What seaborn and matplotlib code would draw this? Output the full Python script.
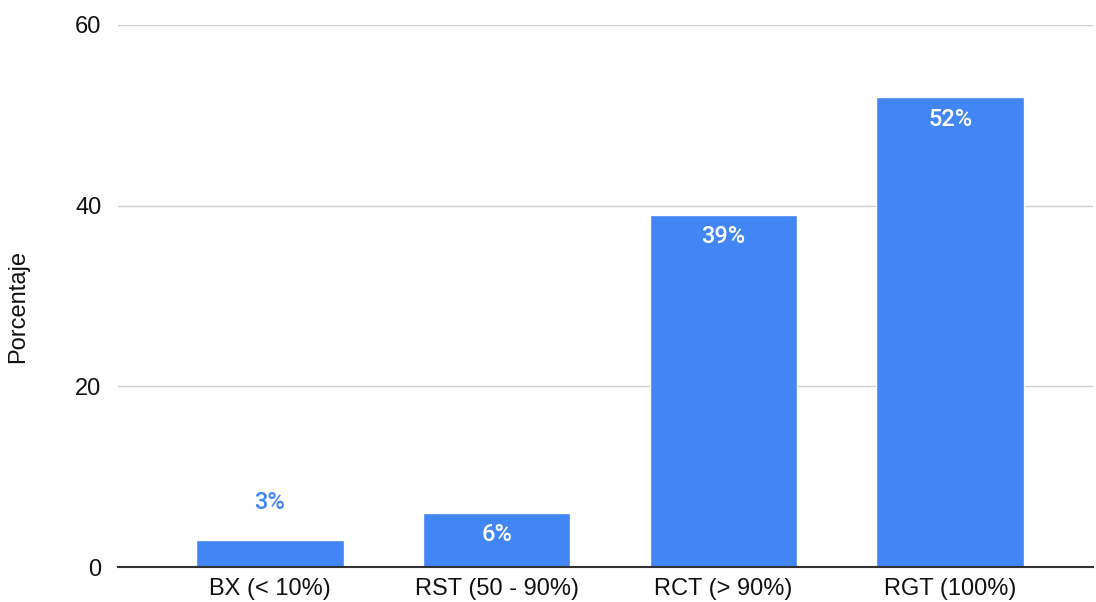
import matplotlib
matplotlib.use("Agg")
import matplotlib.pyplot as plt
import seaborn as sns
import pandas as pd

categories = ["BX (< 10%)", "RST (50 - 90%)", "RCT (> 90%)", "RGT (100%)"]
values = [3, 6, 39, 52]
value_labels = ["3%", "6%", "39%", "52%"]
y_ticks = [0, 20, 40, 60]

BLUE = "#4285F4"

sns.set_theme(style="white")
plt.rcParams["font.family"] = ["Liberation Sans", "DejaVu Sans"]

df = pd.DataFrame({"cat": categories, "val": values})

fig = plt.figure(figsize=(10.96, 6.02), dpi=100)
ax = fig.add_axes([0.1077, 0.0581, 0.8896, 0.9004])

sns.barplot(data=df, x="cat", y="val", color=BLUE, saturation=1, width=0.65, ax=ax, zorder=3)

ax.set_xlim(-0.67, 3.63)
ax.set_ylim(0, 60)
ax.set_yticks(y_ticks)
ax.yaxis.grid(True, color="#cccccc", linewidth=1, zorder=0)
ax.set_axisbelow(True)
for s in ["top", "right", "left"]:
    ax.spines[s].set_visible(False)
ax.spines["bottom"].set_color("#333333")
ax.spines["bottom"].set_linewidth(1.5)
ax.spines["bottom"].set_zorder(4)
ax.tick_params(axis="both", length=0, labelsize=17, colors="#111111")
ax.tick_params(axis="y", pad=12)
ax.tick_params(axis="x", pad=8)
ax.set_xlabel("")
ax.set_ylabel("Porcentaje", fontsize=17, color="#111111")
ax.yaxis.set_label_coords(-0.091, 0.481)

# value labels: inside the bar when it is tall enough, above it otherwise
for i, (v, lab) in enumerate(zip(values, value_labels)):
    if v >= 5:
        ax.annotate(lab, (i, v), xytext=(0, -22), textcoords="offset pixels",
                    ha="center", va="center", color="white", fontsize=17,
                    fontweight="medium", family=["Roboto", "DejaVu Sans"], zorder=5)
    else:
        ax.annotate(lab, (i, v), xytext=(0, 37), textcoords="offset pixels",
                    ha="center", va="center", color=BLUE, fontsize=17,
                    fontweight="medium", family=["Roboto", "DejaVu Sans"], zorder=5)

fig.savefig("out.png", dpi=100)
